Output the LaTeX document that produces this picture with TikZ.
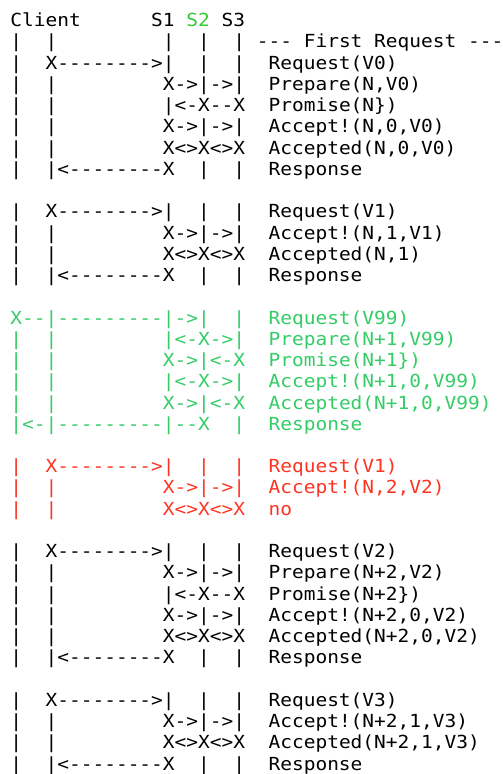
\documentclass[tikz,border=0pt]{standalone}
\usepackage{fontspec}
\setmonofont{DejaVu Sans Mono}[FakeStretch=1.083]
\definecolor{sgreen}{HTML}{33CC33}
\definecolor{bgreen}{HTML}{33CC66}
\definecolor{bred}{HTML}{FF3322}
\begin{document}
\frenchspacing
\begin{tikzpicture}[x=1pt,y=1pt,
  ln/.style={anchor=base west, inner sep=0pt, font=\ttfamily\fontsize{18}{21}\selectfont},
  gr/.style={ln, text=bgreen},
  rd/.style={ln, text=bred}]
\useasboundingbox (0,0) rectangle (503,-774);
\def\lx{10.2}
\node[ln] (l1)  at (\lx,{-26.7-21.24*0})  {Client~~~~~~S1~\textcolor{sgreen}{S2}~S3};
\node[ln] (l2)  at (\lx,{-26.7-21.24*1})  {|~~|~~~~~~~~~|~~|~~|~---~First~Request~---};
\node[ln] (l3)  at (\lx,{-26.7-21.24*2})  {|~~X-------->|~~|~~|~~Request(V0)};
\node[ln] (l4)  at (\lx,{-26.7-21.24*3})  {|~~|~~~~~~~~~X->|->|~~Prepare(N,V0)};
\node[ln] (l5)  at (\lx,{-26.7-21.24*4})  {|~~|~~~~~~~~~|<-X--X~~Promise(N\})};
\node[ln] (l6)  at (\lx,{-26.7-21.24*5})  {|~~|~~~~~~~~~X->|->|~~Accept!(N,0,V0)};
\node[ln] (l7)  at (\lx,{-26.7-21.24*6})  {|~~|~~~~~~~~~X<>X<>X~~Accepted(N,0,V0)};
\node[ln] (l8)  at (\lx,{-26.7-21.24*7})  {|~~|<--------X~~|~~|~~Response};
\node[ln] (l10) at (\lx,{-26.7-21.24*9})  {|~~X-------->|~~|~~|~~Request(V1)};
\node[ln] (l11) at (\lx,{-26.7-21.24*10}) {|~~|~~~~~~~~~X->|->|~~Accept!(N,1,V1)};
\node[ln] (l12) at (\lx,{-26.7-21.24*11}) {|~~|~~~~~~~~~X<>X<>X~~Accepted(N,1)};
\node[ln] (l13) at (\lx,{-26.7-21.24*12}) {|~~|<--------X~~|~~|~~Response};
\node[gr] (l15) at (\lx,{-26.7-21.24*14}) {X--|---------|->|~~|~~Request(V99)};
\node[gr] (l16) at (\lx,{-26.7-21.24*15}) {|~~|~~~~~~~~~|<-X->|~~Prepare(N+1,V99)};
\node[gr] (l17) at (\lx,{-26.7-21.24*16}) {|~~|~~~~~~~~~X->|<-X~~Promise(N+1\})};
\node[gr] (l18) at (\lx,{-26.7-21.24*17}) {|~~|~~~~~~~~~|<-X->|~~Accept!(N+1,0,V99)};
\node[gr] (l19) at (\lx,{-26.7-21.24*18}) {|~~|~~~~~~~~~X->|<-X~~Accepted(N+1,0,V99)};
\node[gr] (l20) at (\lx,{-26.7-21.24*19}) {|<-|---------|--X~~|~~Response};
\node[rd] (l22) at (\lx,{-26.7-21.24*21}) {|~~X-------->|~~|~~|~~Request(V1)};
\node[rd] (l23) at (\lx,{-26.7-21.24*22}) {|~~|~~~~~~~~~X->|->|~~Accept!(N,2,V2)};
\node[rd] (l24) at (\lx,{-26.7-21.24*23}) {|~~|~~~~~~~~~X<>X<>X~~no};
\node[ln] (l26) at (\lx,{-26.7-21.24*25}) {|~~X-------->|~~|~~|~~Request(V2)};
\node[ln] (l27) at (\lx,{-26.7-21.24*26}) {|~~|~~~~~~~~~X->|->|~~Prepare(N+2,V2)};
\node[ln] (l28) at (\lx,{-26.7-21.24*27}) {|~~|~~~~~~~~~|<-X--X~~Promise(N+2\})};
\node[ln] (l29) at (\lx,{-26.7-21.24*28}) {|~~|~~~~~~~~~X->|->|~~Accept!(N+2,0,V2)};
\node[ln] (l30) at (\lx,{-26.7-21.24*29}) {|~~|~~~~~~~~~X<>X<>X~~Accepted(N+2,0,V2)};
\node[ln] (l31) at (\lx,{-26.7-21.24*30}) {|~~|<--------X~~|~~|~~Response};
\node[ln] (l33) at (\lx,{-26.7-21.24*32}) {|~~X-------->|~~|~~|~~Request(V3)};
\node[ln] (l34) at (\lx,{-26.7-21.24*33}) {|~~|~~~~~~~~~X->|->|~~Accept!(N+2,1,V3)};
\node[ln] (l35) at (\lx,{-26.7-21.24*34}) {|~~|~~~~~~~~~X<>X<>X~~Accepted(N+2,1,V3)};
\node[ln] (l36) at (\lx,{-26.7-21.24*35}) {|~~|<--------X~~|~~|~~Response};
\end{tikzpicture}
\end{document}
